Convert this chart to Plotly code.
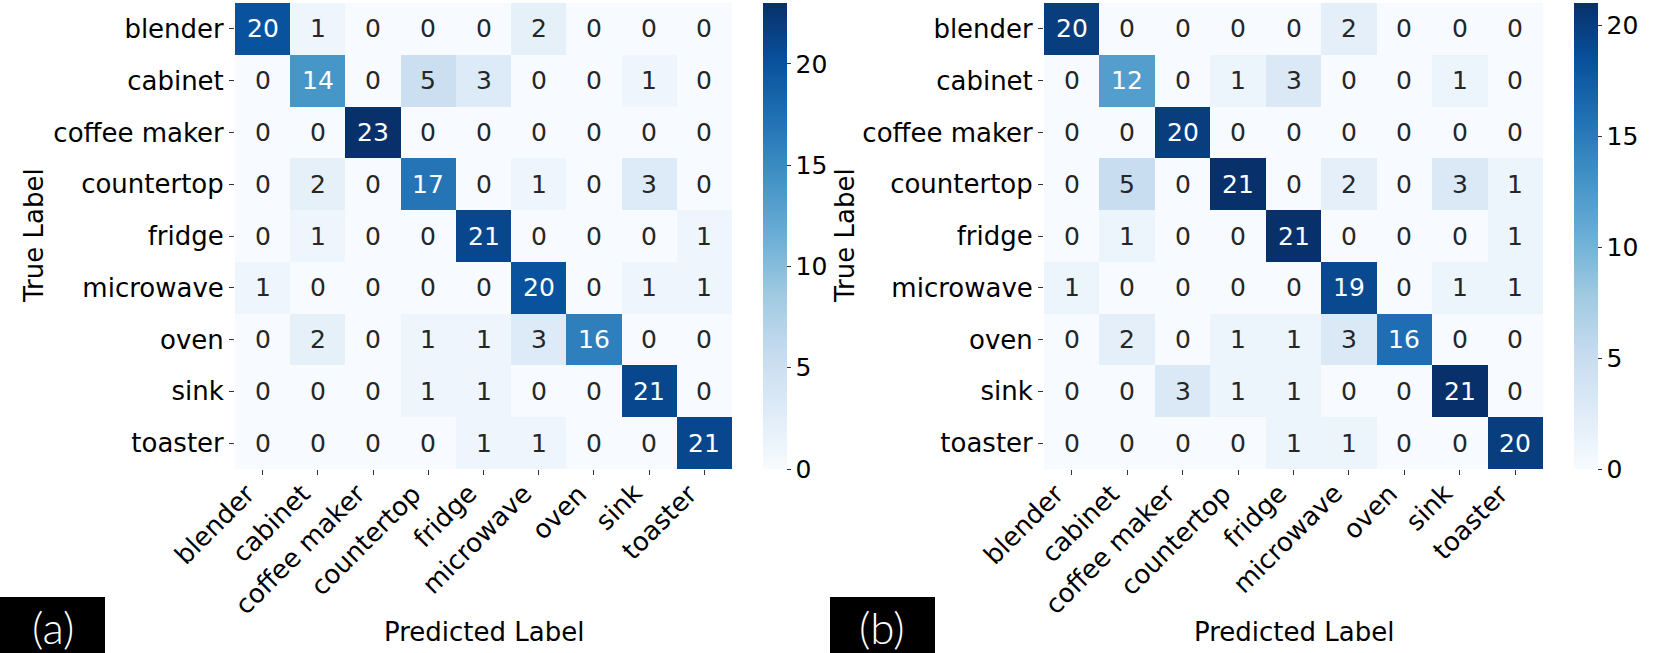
import plotly.graph_objects as go
from plotly.colors import sample_colorscale, unlabel_rgb

labels = ["blender", "cabinet", "coffee maker", "countertop", "fridge",
          "microwave", "oven", "sink", "toaster"]

cm_a = [
    [20, 1, 0, 0, 0, 2, 0, 0, 0],
    [0, 14, 0, 5, 3, 0, 0, 1, 0],
    [0, 0, 23, 0, 0, 0, 0, 0, 0],
    [0, 2, 0, 17, 0, 1, 0, 3, 0],
    [0, 1, 0, 0, 21, 0, 0, 0, 1],
    [1, 0, 0, 0, 0, 20, 0, 1, 1],
    [0, 2, 0, 1, 1, 3, 16, 0, 0],
    [0, 0, 0, 1, 1, 0, 0, 21, 0],
    [0, 0, 0, 0, 1, 1, 0, 0, 21],
]

cm_b = [
    [20, 0, 0, 0, 0, 2, 0, 0, 0],
    [0, 12, 0, 1, 3, 0, 0, 1, 0],
    [0, 0, 20, 0, 0, 0, 0, 0, 0],
    [0, 5, 0, 21, 0, 2, 0, 3, 1],
    [0, 1, 0, 0, 21, 0, 0, 0, 1],
    [1, 0, 0, 0, 0, 19, 0, 1, 1],
    [0, 2, 0, 1, 1, 3, 16, 0, 0],
    [0, 0, 3, 1, 1, 0, 0, 21, 0],
    [0, 0, 0, 0, 1, 1, 0, 0, 20],
]

cbar_ticks = [0, 5, 10, 15, 20]
panel_tags = ["(a)", "(b)"]

W, H = 1661, 653
FONT = "DejaVu Sans"

BLUES = [
    [0.0, "#f7fbff"], [0.125, "#deebf7"], [0.25, "#c6dbef"], [0.375, "#9ecae1"],
    [0.5, "#6baed6"], [0.625, "#4292c6"], [0.75, "#2171b5"], [0.875, "#08519c"],
    [1.0, "#08306b"],
]


def lum(rgb):
    out = []
    for c in rgb:
        c = c / 255.0
        out.append(c / 12.92 if c <= 0.03928 else ((c + 0.055) / 1.055) ** 2.4)
    return 0.2126 * out[0] + 0.7152 * out[1] + 0.0722 * out[2]


def px_x(p):
    return p / W


def px_y(p):
    return 1 - p / H


fig = go.Figure()

panels = [
    dict(cm=cm_a, x0=235, x1=732, cb0=763, xa="x", ya="y", xaxis="xaxis", yaxis="yaxis",
         tag_x0=0, tag_x1=105, ytitle_x=34),
    dict(cm=cm_b, x0=1044, x1=1543, cb0=1574, xa="x2", ya="y2", xaxis="xaxis2", yaxis="yaxis2",
         tag_x0=830, tag_x1=935, ytitle_x=845),
]
top, bot = 3, 469
n = len(labels)

for i, p in enumerate(panels):
    cm = p["cm"]
    zmax = max(max(r) for r in cm)
    fig.add_trace(go.Heatmap(
        z=cm, x=labels, y=labels, xaxis=p["xa"], yaxis=p["ya"],
        colorscale=BLUES, zmin=0, zmax=zmax, hoverinfo="skip",
        colorbar=dict(
            x=px_x(p["cb0"]), xanchor="left", xref="paper",
            y=px_y(bot), yanchor="bottom", yref="paper",
            len=(bot - top) / H, lenmode="fraction",
            thickness=24, thicknessmode="pixels",
            outlinewidth=0, tickvals=cbar_ticks,
            ticks="outside", ticklen=4, tickwidth=1, tickcolor="#333",
            tickfont=dict(family=FONT, size=25, color="black"),
            xpad=0, ypad=0,
        ),
    ))
    # cell annotations
    for r, row in enumerate(cm):
        for c, v in enumerate(row):
            col = sample_colorscale(BLUES, [v / zmax])[0]
            if col.startswith("rgb"):
                rgb = unlabel_rgb(col)
            else:
                h = col.lstrip("#")
                rgb = tuple(int(h[k:k + 2], 16) for k in (0, 2, 4))
            tc = "#262626" if lum(rgb) > 0.408 else "white"
            fig.add_annotation(x=labels[c], y=labels[r], xref=p["xa"], yref=p["ya"],
                               text=str(v), showarrow=False,
                               font=dict(family=FONT, size=25, color=tc))
    axis_common = dict(showgrid=False, zeroline=False, showline=False, automargin=False,
                       ticks="outside", ticklen=5, tickwidth=1, tickcolor="#333",
                       tickfont=dict(family=FONT, size=26, color="black"))
    fig.update_layout({
        p["xaxis"]: dict(domain=[px_x(p["x0"]), px_x(p["x1"])], anchor=p["ya"],
                         range=[-0.5, n - 0.5], autorange=False,
                         showticklabels=False, **axis_common),
        p["yaxis"]: dict(domain=[px_y(bot), px_y(top)], anchor=p["xa"],
                         range=[n - 0.5, -0.5], autorange=False, **axis_common),
    })
    # rotated x tick labels (right/top aligned like matplotlib)
    for lab in labels:
        fig.add_annotation(x=lab, xref=p["xa"], y=px_y(bot + 8), yref="paper",
                           text=lab, textangle=-45, showarrow=False,
                           xanchor="right", yanchor="top", borderpad=0,
                           font=dict(family=FONT, size=26, color="black"))
    # axis titles
    fig.add_annotation(x=px_x(p["ytitle_x"]), y=px_y((top + bot) / 2), xref="paper", yref="paper",
                       text="True Label", textangle=-90, showarrow=False,
                       xanchor="center", yanchor="middle",
                       font=dict(family=FONT, size=26, color="black"))
    fig.add_annotation(x=px_x((p["x0"] + p["x1"]) / 2), y=px_y(632), xref="paper", yref="paper",
                       text="Predicted Label", showarrow=False,
                       xanchor="center", yanchor="middle",
                       font=dict(family=FONT, size=26, color="black"))
    # panel tag
    fig.add_shape(type="rect", xref="paper", yref="paper",
                  x0=px_x(p["tag_x0"]), x1=px_x(p["tag_x1"]), y0=px_y(653), y1=px_y(597),
                  fillcolor="black", line=dict(width=0), layer="above")
    fig.add_annotation(x=px_x((p["tag_x0"] + p["tag_x1"]) / 2), y=px_y(627), xref="paper", yref="paper",
                       text=panel_tags[i], showarrow=False,
                       xanchor="center", yanchor="middle",
                       font=dict(family="Lato", size=44, color="white", weight=300))

fig.update_layout(template="none", width=W, height=H, autosize=False,
                  margin=dict(l=0, r=0, t=0, b=0, pad=0),
                  paper_bgcolor="white", plot_bgcolor="white",
                  showlegend=False)

fig.write_html("out.html", config={"displayModeBar": False},
               post_script="document.body.style.margin='0px';document.body.style.overflow='hidden';")
